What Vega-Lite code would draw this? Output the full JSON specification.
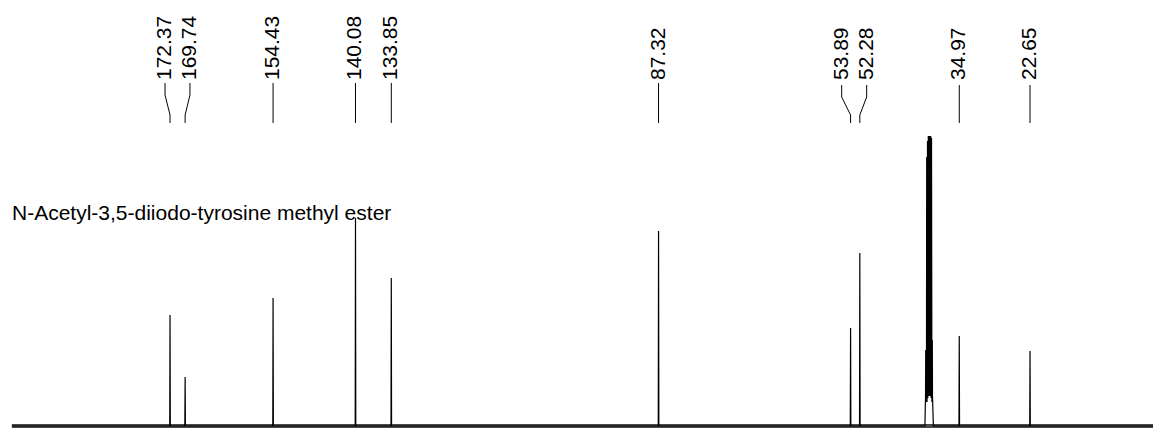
{
  "$schema": "https://vega.github.io/schema/vega-lite/v6.json",
  "width": 1153,
  "height": 430,
  "padding": 0,
  "autosize": {"type": "none"},
  "background": "white",
  "config": {"view": {"stroke": null}},
  "datasets": {
    "spectrum": [
      {"ppm": 199.9, "intensity": 0},
      {"ppm": 172.42, "intensity": 0}, {"ppm": 172.37, "intensity": 111}, {"ppm": 172.32, "intensity": 0},
      {"ppm": 169.79, "intensity": 0}, {"ppm": 169.74, "intensity": 49}, {"ppm": 169.69, "intensity": 0},
      {"ppm": 154.48, "intensity": 0}, {"ppm": 154.43, "intensity": 128}, {"ppm": 154.38, "intensity": 0},
      {"ppm": 140.13, "intensity": 0}, {"ppm": 140.08, "intensity": 208}, {"ppm": 140.03, "intensity": 0},
      {"ppm": 133.9, "intensity": 0}, {"ppm": 133.85, "intensity": 148}, {"ppm": 133.8, "intensity": 0},
      {"ppm": 87.37, "intensity": 0}, {"ppm": 87.32, "intensity": 195}, {"ppm": 87.27, "intensity": 0},
      {"ppm": 53.94, "intensity": 0}, {"ppm": 53.89, "intensity": 98}, {"ppm": 53.84, "intensity": 0},
      {"ppm": 52.33, "intensity": 0}, {"ppm": 52.28, "intensity": 173}, {"ppm": 52.23, "intensity": 0},
      {"ppm": 40.95, "intensity": 0},
      {"ppm": 40.84, "intensity": 30},
      {"ppm": 40.81, "intensity": 76},
      {"ppm": 40.78, "intensity": 28},
      {"ppm": 40.68, "intensity": 24},
      {"ppm": 40.64, "intensity": 269},
      {"ppm": 40.58, "intensity": 24},
      {"ppm": 40.5, "intensity": 285},
      {"ppm": 40.44, "intensity": 28},
      {"ppm": 40.36, "intensity": 290},
      {"ppm": 40.29, "intensity": 30},
      {"ppm": 40.22, "intensity": 290},
      {"ppm": 40.15, "intensity": 30},
      {"ppm": 40.08, "intensity": 290},
      {"ppm": 40.01, "intensity": 30},
      {"ppm": 39.94, "intensity": 290},
      {"ppm": 39.87, "intensity": 28},
      {"ppm": 39.8, "intensity": 288},
      {"ppm": 39.73, "intensity": 24},
      {"ppm": 39.69, "intensity": 26},
      {"ppm": 39.66, "intensity": 86},
      {"ppm": 39.63, "intensity": 30},
      {"ppm": 39.48, "intensity": 0},
      {"ppm": 35.02, "intensity": 0}, {"ppm": 34.97, "intensity": 90}, {"ppm": 34.92, "intensity": 0},
      {"ppm": 22.7, "intensity": 0}, {"ppm": 22.65, "intensity": 75}, {"ppm": 22.6, "intensity": 0},
      {"ppm": 1.24, "intensity": 0}
    ],
    "baseline": [
      {"ppm": 199.9, "intensity": 0},
      {"ppm": 1.24, "intensity": 0}
    ],
    "leaders": [
      {"label": "172.37", "step": 1, "ppm": 173.24, "v": 343},
      {"label": "172.37", "step": 2, "ppm": 173.24, "v": 331},
      {"label": "172.37", "step": 3, "ppm": 172.37, "v": 311},
      {"label": "172.37", "step": 4, "ppm": 172.37, "v": 303},
      {"label": "169.74", "step": 1, "ppm": 168.9, "v": 343},
      {"label": "169.74", "step": 2, "ppm": 168.9, "v": 331},
      {"label": "169.74", "step": 3, "ppm": 169.74, "v": 311},
      {"label": "169.74", "step": 4, "ppm": 169.74, "v": 303},
      {"label": "154.43", "step": 1, "ppm": 154.43, "v": 343},
      {"label": "154.43", "step": 4, "ppm": 154.43, "v": 303},
      {"label": "140.08", "step": 1, "ppm": 140.08, "v": 343},
      {"label": "140.08", "step": 4, "ppm": 140.08, "v": 303},
      {"label": "133.85", "step": 1, "ppm": 133.85, "v": 343},
      {"label": "133.85", "step": 4, "ppm": 133.85, "v": 303},
      {"label": "87.32", "step": 1, "ppm": 87.32, "v": 343},
      {"label": "87.32", "step": 4, "ppm": 87.32, "v": 303},
      {"label": "53.89", "step": 1, "ppm": 55.44, "v": 341},
      {"label": "53.89", "step": 2, "ppm": 55.44, "v": 329},
      {"label": "53.89", "step": 3, "ppm": 53.89, "v": 311},
      {"label": "53.89", "step": 4, "ppm": 53.89, "v": 303},
      {"label": "52.28", "step": 1, "ppm": 51.09, "v": 341},
      {"label": "52.28", "step": 2, "ppm": 51.09, "v": 329},
      {"label": "52.28", "step": 3, "ppm": 52.28, "v": 311},
      {"label": "52.28", "step": 4, "ppm": 52.28, "v": 303},
      {"label": "34.97", "step": 1, "ppm": 34.97, "v": 341},
      {"label": "34.97", "step": 4, "ppm": 34.97, "v": 303},
      {"label": "22.65", "step": 1, "ppm": 22.65, "v": 341},
      {"label": "22.65", "step": 4, "ppm": 22.65, "v": 303}
    ],
    "labels": [
      {"label": "172.37", "ppm": 173.24, "v": 346},
      {"label": "169.74", "ppm": 168.9, "v": 346},
      {"label": "154.43", "ppm": 154.43, "v": 346},
      {"label": "140.08", "ppm": 140.08, "v": 346},
      {"label": "133.85", "ppm": 133.85, "v": 346},
      {"label": "87.32", "ppm": 87.32, "v": 346},
      {"label": "53.89", "ppm": 55.44, "v": 346},
      {"label": "52.28", "ppm": 51.09, "v": 346},
      {"label": "34.97", "ppm": 34.97, "v": 346},
      {"label": "22.65", "ppm": 22.65, "v": 346}
    ],
    "title": [
      {"text": "N-Acetyl-3,5-diiodo-tyrosine methyl ester", "ppm": 199.88, "v": 206}
    ]
  },
  "layer": [
    {
      "data": {"name": "baseline"},
      "mark": {"type": "line", "color": "#4a4a4a", "strokeWidth": 4},
      "encoding": {
        "x": {"field": "ppm", "type": "quantitative", "scale": {"domain": [1.24, 201.97], "reverse": true, "nice": false, "zero": false}, "axis": null},
        "y": {"field": "intensity", "type": "quantitative", "scale": {"domain": [-4, 426], "nice": false, "zero": false}, "axis": null}
      }
    },
    {
      "data": {"name": "spectrum"},
      "mark": {"type": "line", "color": "#000000", "strokeWidth": 1.2},
      "encoding": {
        "x": {"field": "ppm", "type": "quantitative"},
        "y": {"field": "intensity", "type": "quantitative"}
      }
    },
    {
      "data": {"name": "leaders"},
      "mark": {"type": "line", "color": "#000000", "strokeWidth": 1},
      "encoding": {
        "x": {"field": "ppm", "type": "quantitative"},
        "y": {"field": "v", "type": "quantitative"},
        "detail": {"field": "label"},
        "order": {"field": "step", "type": "quantitative"}
      }
    },
    {
      "data": {"name": "labels"},
      "mark": {"type": "text", "angle": -90, "align": "left", "baseline": "middle", "font": "Liberation Sans", "fontSize": 21, "color": "#000000"},
      "encoding": {
        "x": {"field": "ppm", "type": "quantitative"},
        "y": {"field": "v", "type": "quantitative"},
        "text": {"field": "label"}
      }
    },
    {
      "data": {"name": "title"},
      "mark": {"type": "text", "align": "left", "baseline": "alphabetic", "font": "Liberation Sans", "fontSize": 21, "color": "#000000"},
      "encoding": {
        "x": {"field": "ppm", "type": "quantitative"},
        "y": {"field": "v", "type": "quantitative"},
        "text": {"field": "text"}
      }
    }
  ]
}
